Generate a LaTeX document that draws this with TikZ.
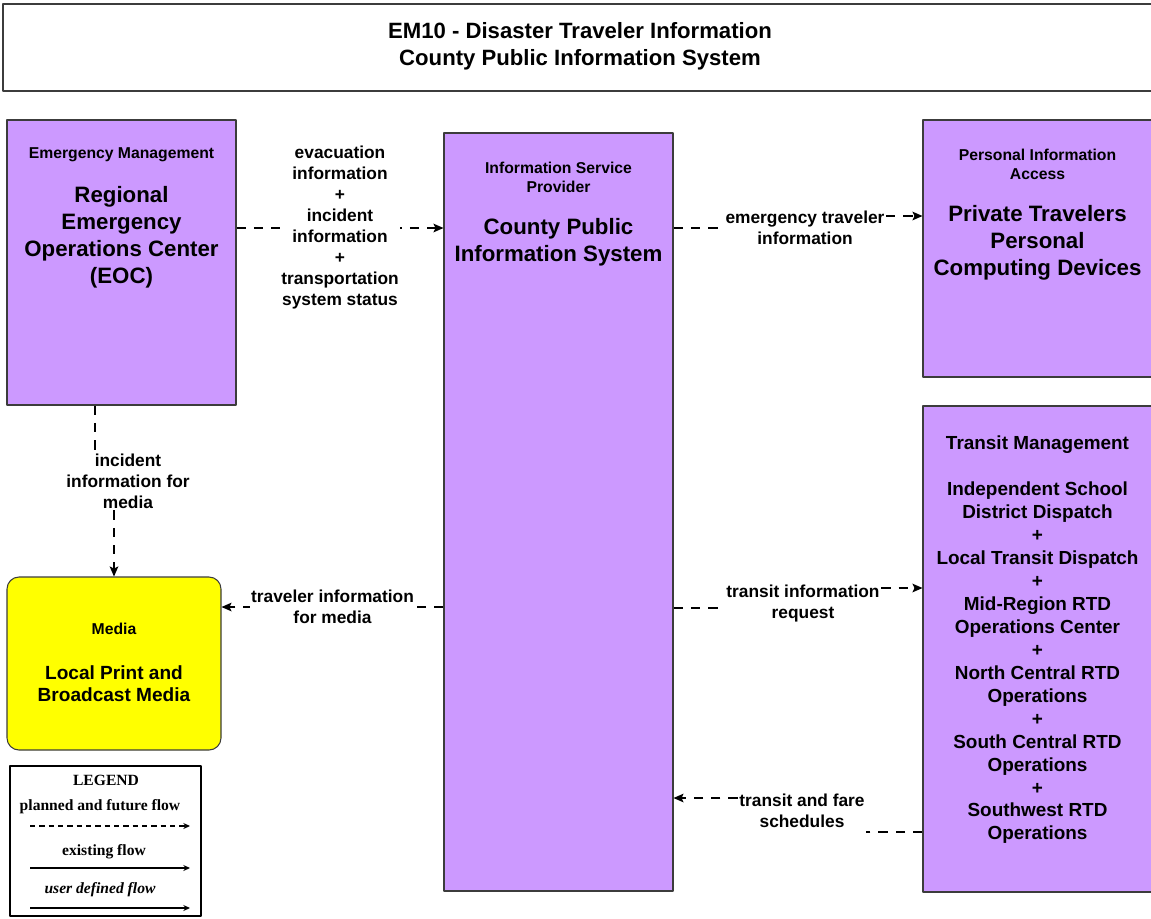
\documentclass[tikz,border=0pt]{standalone}
\usepackage{fontspec}
\usetikzlibrary{arrows.meta}
\setmainfont{Liberation Sans}
\newfontfamily\legendfont{Liberation Serif}
\definecolor{sysfill}{RGB}{204,153,255}
\definecolor{mediafill}{RGB}{255,255,0}
\definecolor{boxline}{RGB}{60,60,60}
\tikzset{
  sysbox/.style={draw=boxline,fill=sysfill,line width=0.8pt,inner sep=0pt},
  typetext/.style={align=center,font=\fontsize{11.8}{14.25}\selectfont\bfseries},
  nametext/.style={align=center,font=\fontsize{16.7}{20.25}\selectfont\bfseries},
  flow/.style={dash pattern=on 7pt off 6pt,line width=0.9pt},
  flowlbl/.style={fill=white,inner sep=1pt,align=center,font=\fontsize{13}{15.75}\selectfont\bfseries},
  legtext/.style={font=\legendfont\fontsize{11.7}{13}\selectfont\bfseries}
}
\begin{document}
\begin{tikzpicture}[x=0.75pt,y=-0.75pt,>={Stealth[length=7.5pt,width=6.5pt,inset=1.5pt]},line join=round]
	\useasboundingbox (0,0) rectangle (1151,918);
	% title
	\node[draw=boxline,line width=0.8pt,minimum width=864.75pt,minimum height=65.25pt,inner sep=0pt] (titlebox) at (579.5,47.5) {};
	\node[align=center,font=\fontsize{16.6}{20.25}\selectfont\bfseries] (title) at (580,46.5) {EM10 - Disaster Traveler Information\\County Public Information System};
	% boxes
	\node[sysbox,minimum width=171.75pt,minimum height=213.75pt] (eoc) at (121.5,262.5) {};
	\node[typetext] (eoctype) at (121.5,155) {Emergency Management};
	\node[nametext] (eocname) at (121.5,237.5) {Regional\\Emergency\\Operations Center\\(EOC)};
	\node[sysbox,minimum width=171.75pt,minimum height=568.5pt] (isp) at (558.5,512) {};
	\node[typetext] (isptype) at (558.5,177.5) {Information Service\\Provider};
	\node[nametext] (ispname) at (558.5,242.5) {County Public\\Information System};
	\node[sysbox,minimum width=171.75pt,minimum height=192.75pt] (pia) at (1037.5,248.5) {};
	\node[typetext] (piatype) at (1037.5,164) {Personal Information\\Access};
	\node[nametext] (pianame) at (1037.5,242.5) {Private Travelers\\Personal\\Computing Devices};
	\node[sysbox,minimum width=171.75pt,minimum height=364.5pt] (tm) at (1037.5,649) {};
	\node[align=center,font=\fontsize{14.2}{17.2}\selectfont\bfseries] (tmtype) at (1037.5,445) {Transit Management};
	\node[align=center,font=\fontsize{14.2}{17.2}\selectfont\bfseries] (tmname) at (1037.5,663) {Independent School\\District Dispatch\\+\\Local Transit Dispatch\\+\\Mid-Region RTD\\Operations Center\\+\\North Central RTD\\Operations\\+\\South Central RTD\\Operations\\+\\Southwest RTD\\Operations};
	\node[draw=boxline,fill=mediafill,line width=0.8pt,rounded corners=9pt,minimum width=160.5pt,minimum height=129.75pt,inner sep=0pt] (media) at (114,663.5) {};
	\node[typetext] (mediatype) at (114,629) {Media};
	\node[align=center,font=\fontsize{14.3}{16.5}\selectfont\bfseries] (medianame) at (114,684) {Local Print and\\Broadcast Media};
	% flows
	\draw[flow,->] (eoc.east |- 0,228) -- (isp.west |- 0,228) node[flowlbl,midway] (evac) {evacuation\\information\\+\\incident\\information\\+\\transportation\\system status};
	\node[flowlbl] (eti) at (805,227.5) {emergency traveler\\information};
	\draw[flow] (isp.east |- 0,228) -- (eti.west |- 0,228);
	\draw[flow,->] (eti.east |- 0,216) -- (pia.west |- 0,216);
	\node[flowlbl] (tir) at (803,603.5) {transit information\\request};
	\draw[flow] (isp.east |- 0,608) -- (tir.west |- 0,608);
	\draw[flow,->] (tir.east |- 0,588) -- (tm.west |- 0,588);
	\node[flowlbl] (tfs) at (802,810.5) {transit and fare\\schedules};
	\draw[flow] (tm.west |- 0,832) -- (tfs.east |- 0,832);
	\draw[flow,->] (tfs.west |- 0,798) -- (isp.east |- 0,798);
	\draw[flow,->] (isp.west |- 0,607) -- (media.east |- 0,607) node[flowlbl,midway] (tim) {traveler information\\for media};
	\node[flowlbl] (ifm) at (128,481.5) {incident\\information for\\media};
	\draw[flow] (eoc.south -| 95,0) -- (ifm.north -| 95,0);
	\draw[flow,->] (ifm.south -| media.north) -- (media.north);
	% legend
	\node[draw,line width=0.8pt,minimum width=143.25pt,minimum height=112.5pt,inner sep=0pt] (legend) at (105.5,841) {};
	\node[legtext] (legtitle) at (106,780) {LEGEND};
	\node[legtext] (legplan) at (100,807) {planned and future flow};
	\node[legtext] (legexist) at (104,852) {existing flow};
	\node[legtext,font=\legendfont\fontsize{11.7}{13}\selectfont\bfseries\itshape] (leguser) at (100,890) {user defined flow};
	\draw[-{Stealth[length=5pt,width=4.5pt]},dash pattern=on 4pt off 3pt,line width=0.8pt] (30,826) -- (190,826);
	\draw[-{Stealth[length=5pt,width=4.5pt]},line width=0.9pt] (30,868) -- (190,868);
	\draw[-{Stealth[length=5pt,width=4.5pt]},line width=0.9pt] (30,908) -- (190,908);
\end{tikzpicture}
\end{document}
